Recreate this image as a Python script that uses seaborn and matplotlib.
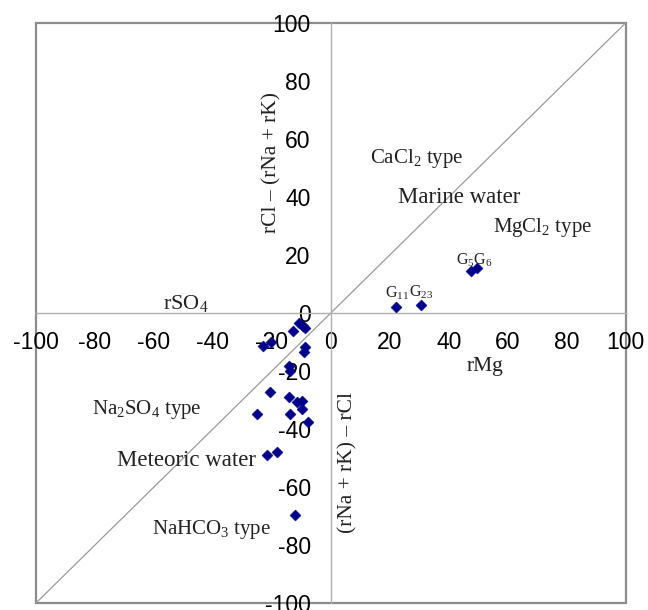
import matplotlib
matplotlib.use("Agg")
import matplotlib.pyplot as plt
import seaborn as sns
import pandas as pd
from matplotlib.patches import Rectangle

# ---- data ----
x_vals = [-10.7, -9.4, -8.7, -12.8, -23.0, -20.3, -8.7, -9.2, -14.2, -13.9,
          -20.7, -14.2, -11.6, -9.9, -9.9, -13.9, -25.2, -7.7, -21.5, -18.4,
          -12.2, 22.0, 30.5, 47.4, 49.4]
y_vals = [-3.6, -4.5, -5.3, -6.4, -11.4, -10.1, -11.6, -13.3, -18.3, -20.0,
          -27.1, -29.1, -30.6, -30.2, -33.1, -34.8, -34.9, -37.5, -49.0, -48.0,
          -69.7, 2.0, 2.8, 14.6, 15.4]
tick_values = [-100, -80, -60, -40, -20, 0, 20, 40, 60, 80, 100]

point_labels = ["G$_{11}$", "G$_{23}$", "G$_5$G$_6$"]
point_label_x = [22.4, 30.5, 48.5]
point_label_y = [6.9, 7.2, 18.3]

type_labels = ["CaCl$_2$ type", "MgCl$_2$ type", "Na$_2$SO$_4$ type", "NaHCO$_3$ type"]
type_x = [13.2, 55.0, -81.0, -60.7]
type_y = [53.4, 29.3, -33.4, -74.8]

water_labels = ["Marine water", "Meteoric water"]
water_x = [22.7, -72.5]
water_y = [39.7, -51.0]

df = pd.DataFrame({"x": x_vals, "y": y_vals})

sns.set_style("white")
plt.rcParams["font.family"] = ["Liberation Sans", "DejaVu Sans"]
plt.rcParams["mathtext.fontset"] = "custom"
plt.rcParams["mathtext.rm"] = "Liberation Serif"
plt.rcParams["mathtext.it"] = "Liberation Serif:italic"
plt.rcParams["mathtext.bf"] = "Liberation Serif:bold"

fig = plt.figure(figsize=(6.48, 6.10), dpi=100)
ax = fig.add_axes([0.0556, 0.0115, 0.910, 0.951])

# diagonal reference line
sns.lineplot(x=[-100, 100], y=[-100, 100], ax=ax, color="#9a9a9a", linewidth=0.9, zorder=1)

sns.scatterplot(data=df, x="x", y="y", ax=ax, marker="D", color="#00008B",
                s=32, edgecolor="#00008B", linewidth=0.3, zorder=3)

ax.set_xlim(-100, 100)
ax.set_ylim(-100, 100)
ax.set_xticks(tick_values)
ax.set_yticks(tick_values)
ax.set_xticklabels([str(v) for v in tick_values])
ax.set_yticklabels([str(v) for v in tick_values])

# axes through origin
ax.spines["left"].set_position(("data", 0))
ax.spines["bottom"].set_position(("data", 0))
ax.spines["top"].set_visible(False)
ax.spines["right"].set_visible(False)
for s in ("left", "bottom"):
    ax.spines[s].set_color("#b0b0b0")
    ax.spines[s].set_linewidth(1.0)
ax.tick_params(axis="both", which="both", direction="out", length=4.5,
               width=0.8, color="#b0b0b0", labelsize=16.5, labelcolor="black")
ax.tick_params(axis="x", pad=8.5)
ax.tick_params(axis="y", pad=10)
ax.set_xlabel("")
ax.set_ylabel("")

# outer frame
ax.add_patch(Rectangle((0, 0), 1, 1, transform=ax.transAxes, fill=False,
                       edgecolor="#8c8c8c", linewidth=1.6, clip_on=False, zorder=0))

serif = ["Liberation Serif", "DejaVu Serif"]
for t, xx, yy in zip(type_labels, type_x, type_y):
    ax.text(xx, yy, t, ha="left", va="center", fontsize=15, family=serif, color="#222222")
for t, xx, yy in zip(water_labels, water_x, water_y):
    ax.text(xx, yy, t, ha="left", va="center", fontsize=16.5, family=serif, color="#222222")
for t, xx, yy in zip(point_labels, point_label_x, point_label_y):
    ax.text(xx, yy, t, ha="center", va="center", fontsize=11.5, family=serif, color="#222222")

ax.text(-57, 3.4, "rSO$_4$", ha="left", va="center", fontsize=16, family=serif, color="#222222")
ax.text(46, -18.6, "rMg", ha="left", va="center", fontsize=15.5, family=serif, color="#222222")
ax.text(-20, 52, "rCl \u2013 (rNa + rK)", rotation=90, ha="center", va="center",
        fontsize=15.5, family=serif, color="#222222")
ax.text(5.9, -51.4, "(rNa + rK) \u2013 rCl", rotation=90, ha="center", va="center",
        fontsize=15.5, family=serif, color="#222222")

fig.savefig("out.png", dpi=100)
